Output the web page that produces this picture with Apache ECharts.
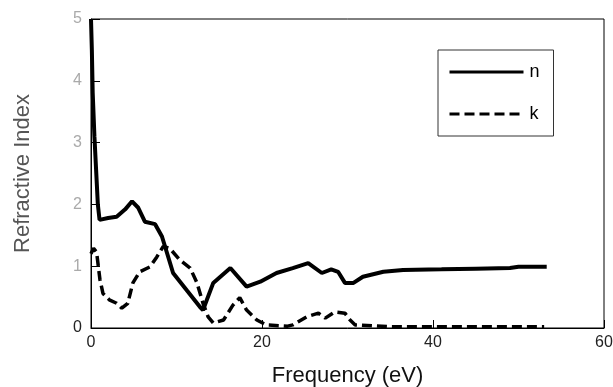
<!DOCTYPE html>
<html><head><meta charset="utf-8">
<script src="https://cdn.jsdelivr.net/npm/echarts@6/dist/echarts.min.js"></script>
<style>html,body{margin:0;padding:0;background:#fff}#c{width:613px;height:387px}</style>
</head><body><div id="c"></div>
<script>
const nX = [0, 0.1, 0.2, 0.4, 0.6, 0.8, 1.0, 2, 3, 4, 4.8, 5.5, 6.3, 7.5, 8.3, 8.9, 9.6, 11.2, 12.75, 13.1, 14.3, 16.3, 18.2, 19.8, 21.7, 23.6, 25.4, 27, 28.1, 28.9, 29.7, 30.7, 31.8, 34.2, 36.5, 41, 45, 49, 50, 53.3];
const nY = [5, 4.5, 3.8, 3.1, 2.55, 2.0, 1.75, 1.78, 1.8, 1.92, 2.05, 1.95, 1.72, 1.68, 1.48, 1.21, 0.89, 0.61, 0.34, 0.29, 0.73, 0.97, 0.67, 0.75, 0.89, 0.97, 1.05, 0.89, 0.95, 0.91, 0.73, 0.73, 0.83, 0.91, 0.94, 0.95, 0.96, 0.97, 0.99, 0.99];
const kX = [0, 0.3, 0.65, 1.05, 1.4, 2.2, 3, 3.6, 4.3, 4.9, 5.7, 6.9, 7.7, 8.45, 9.2, 10.4, 11.6, 12.4, 13.1, 13.7, 14.3, 15.5, 16.6, 17.4, 18.2, 19.4, 20.5, 23, 23.6, 25.2, 26.6, 27.4, 28.5, 29.7, 30.3, 30.9, 35, 53];
const kY = [1.2, 1.29, 1.23, 0.78, 0.56, 0.45, 0.4, 0.32, 0.4, 0.73, 0.91, 0.99, 1.15, 1.32, 1.29, 1.1, 0.97, 0.73, 0.4, 0.18, 0.08, 0.13, 0.37, 0.49, 0.29, 0.13, 0.05, 0.03, 0.05, 0.18, 0.24, 0.16, 0.26, 0.24, 0.13, 0.05, 0.02, 0.02];
const seriesNames = ['n', 'k'];
const xTicks = [0, 20, 40, 60];
const yTicks = [0, 1, 2, 3, 4, 5];

const chart = echarts.init(document.getElementById('c'), null, {renderer: 'canvas'});
const pair = (xs, ys) => xs.map((x, i) => [x, ys[i]]);
chart.setOption({
  animation: false,
  backgroundColor: '#fff',
  textStyle: {fontFamily: 'Liberation Sans, Arial, sans-serif'},
  grid: {left: 91, top: 19, right: 9, bottom: 59, outerBoundsMode: 'none', containLabel: false,
         show: true, borderColor: '#000', borderWidth: 1, backgroundColor: 'transparent'},
  legend: {
    orient: 'vertical', left: 438, top: 50,
    padding: [13, 14, 13, 10], itemGap: 24, itemWidth: 74, itemHeight: 14,
    borderColor: '#333', borderWidth: 1,
    itemStyle: {opacity: 0},
    lineStyle: {width: 3},
    textStyle: {fontSize: 18, color: '#000', padding: [0, 0, 0, 1]},
    data: seriesNames
  },
  xAxis: {
    type: 'value', min: xTicks[0], max: xTicks[xTicks.length - 1], interval: 20,
    name: 'Frequency (eV)', nameLocation: 'middle', nameGap: 37,
    nameTextStyle: {fontSize: 22, color: '#111'},
    axisLine: {lineStyle: {color: '#000', width: 1}},
    axisTick: {inside: true, length: 8, lineStyle: {color: '#000'}},
    axisLabel: {fontSize: 16, color: '#222', margin: 7},
    splitLine: {show: false}
  },
  yAxis: {
    type: 'value', min: yTicks[0], max: yTicks[yTicks.length - 1], interval: 1,
    name: 'Refractive Index', nameLocation: 'middle', nameGap: 57,
    nameTextStyle: {fontSize: 22, color: '#555'},
    axisLine: {lineStyle: {color: '#000', width: 1}},
    axisTick: {inside: true, length: 9, lineStyle: {color: '#000'}},
    axisLabel: {fontSize: 16, margin: 9, formatter: v => v === 0 ? '{a|0}' : '{b|' + v + '}',
      rich: {a: {color: '#222', fontSize: 16}, b: {color: '#aaa', fontSize: 16}}},
    splitLine: {show: false}
  },
  series: [
    {name: seriesNames[0], type: 'line', data: pair(nX, nY), symbol: 'none', smooth: false,
     lineStyle: {color: '#000', width: 4}, itemStyle: {color: '#000'}},
    {name: seriesNames[1], type: 'line', data: pair(kX, kY), symbol: 'none', smooth: false,
     lineStyle: {color: '#000', width: 3.5, type: [10, 5]}, itemStyle: {color: '#000'}}
  ]
});
</script></body></html>
